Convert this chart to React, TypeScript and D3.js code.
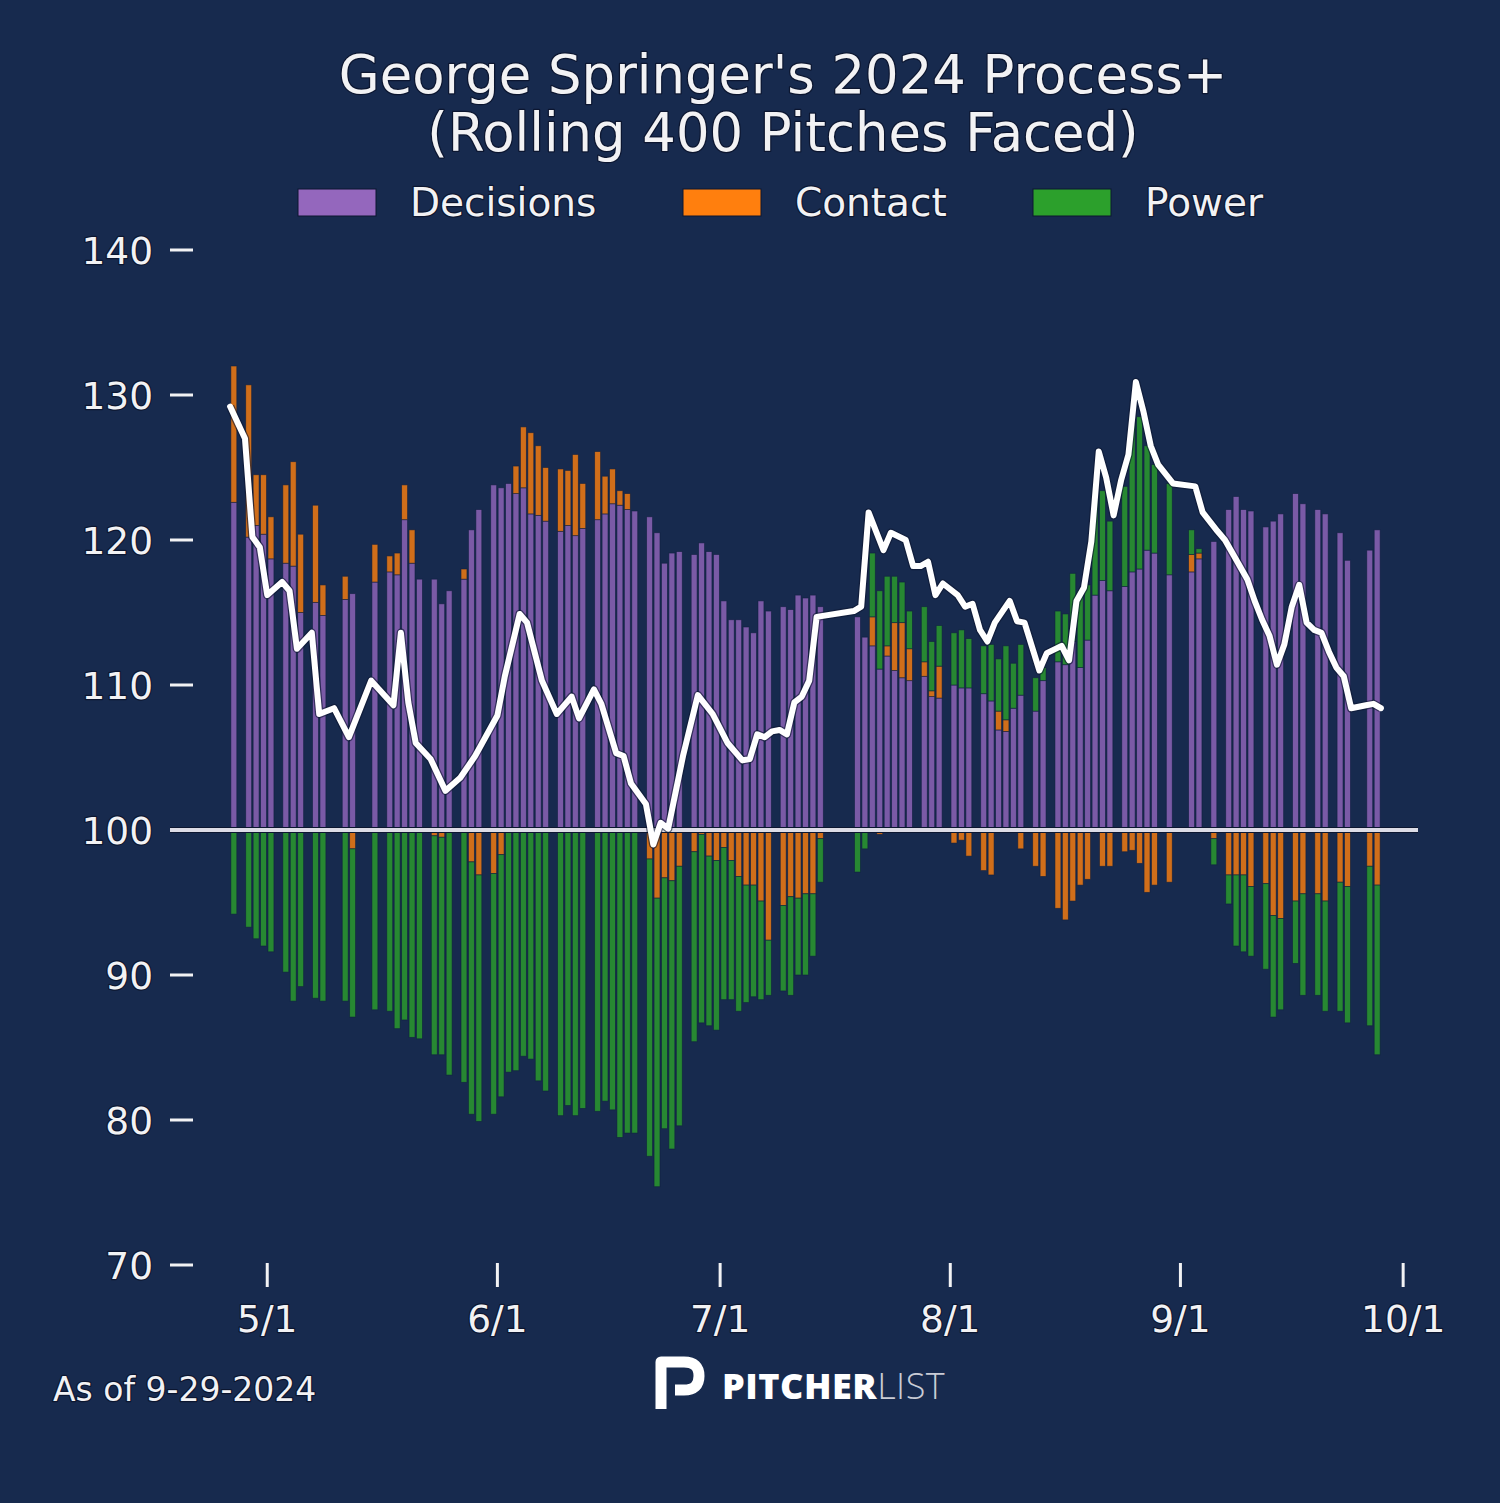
import React, { useEffect } from "react";
import * as d3 from "d3";

// one bar per game day (rolling 400 pitches), values are deviation from 100
const BAR_DATES = [
  "2024-04-26", "2024-04-28", "2024-04-29", "2024-04-30", "2024-05-01", "2024-05-03", "2024-05-04", "2024-05-05",
  "2024-05-07", "2024-05-08", "2024-05-11", "2024-05-12", "2024-05-15", "2024-05-17", "2024-05-18", "2024-05-19",
  "2024-05-20", "2024-05-21", "2024-05-23", "2024-05-24", "2024-05-25", "2024-05-27", "2024-05-28", "2024-05-29",
  "2024-05-31", "2024-06-01", "2024-06-02", "2024-06-03", "2024-06-04", "2024-06-05", "2024-06-06", "2024-06-07",
  "2024-06-09", "2024-06-10", "2024-06-11", "2024-06-12", "2024-06-14", "2024-06-15", "2024-06-16", "2024-06-17",
  "2024-06-18", "2024-06-19", "2024-06-21", "2024-06-22", "2024-06-23", "2024-06-24", "2024-06-25", "2024-06-27",
  "2024-06-28", "2024-06-29", "2024-06-30", "2024-07-01", "2024-07-02", "2024-07-03", "2024-07-04", "2024-07-05",
  "2024-07-06", "2024-07-07", "2024-07-09", "2024-07-10", "2024-07-11", "2024-07-12", "2024-07-13", "2024-07-14",
  "2024-07-19", "2024-07-20", "2024-07-21", "2024-07-22", "2024-07-23", "2024-07-24", "2024-07-25", "2024-07-26",
  "2024-07-28", "2024-07-29", "2024-07-30", "2024-08-01", "2024-08-02", "2024-08-03", "2024-08-05", "2024-08-06",
  "2024-08-07", "2024-08-08", "2024-08-09", "2024-08-10", "2024-08-12", "2024-08-13", "2024-08-15", "2024-08-16",
  "2024-08-17", "2024-08-18", "2024-08-19", "2024-08-20", "2024-08-21", "2024-08-22", "2024-08-24", "2024-08-25",
  "2024-08-26", "2024-08-27", "2024-08-28", "2024-08-30", "2024-09-02", "2024-09-03", "2024-09-05", "2024-09-07",
  "2024-09-08", "2024-09-09", "2024-09-10", "2024-09-12", "2024-09-13", "2024-09-14", "2024-09-16", "2024-09-17",
  "2024-09-19", "2024-09-20", "2024-09-22", "2024-09-23", "2024-09-26", "2024-09-27",
];

const DECISIONS = [
  22.6, 20.2, 21.0, 20.4, 18.7, 18.4, 18.2, 15.0, 15.7, 14.8, 15.9, 16.3, 17.1, 17.8, 17.6, 21.4,
  18.4, 17.3, 17.3, 15.6, 16.5, 17.3, 20.7, 22.1, 23.8, 23.6, 23.9, 23.2, 23.6, 21.8, 21.7, 21.3,
  20.6, 21.0, 20.3, 20.8, 21.4, 21.8, 22.5, 22.4, 22.1, 22.0, 21.6, 20.5, 18.4, 19.1, 19.2, 19.0,
  19.8, 19.2, 19.0, 15.8, 14.5, 14.5, 14.0, 13.6, 15.8, 15.1, 15.4, 15.2, 16.2, 16.0, 16.2, 15.4,
  14.7, 13.3, 12.7, 11.1, 12.0, 11.0, 10.5, 10.3, 10.6, 9.2, 9.1, 10.0, 9.8, 9.8, 9.4, 8.9,
  6.9, 6.8, 8.4, 9.3, 8.2, 10.3, 11.6, 11.4, 13.0, 11.2, 13.1, 16.2, 17.2, 16.5, 16.8, 17.8,
  18.0, 19.3, 19.1, 17.6, 17.8, 18.7, 19.9, 22.1, 23.0, 22.1, 22.0, 20.9, 21.3, 21.8, 23.2, 22.5,
  22.1, 21.8, 20.5, 18.6, 19.3, 20.7,
];

const CONTACT = [
  9.4, 10.5, 3.5, 4.1, 2.9, 5.4, 7.2, 5.4, 6.7, 2.1, 1.6, -1.3, 2.6, 1.1, 1.5, 2.4,
  2.3, 0, -0.4, -0.5, 0, 0.7, -2.2, -3.1, -3.0, -1.7, 0, 1.9, 4.2, 5.6, 4.8, 3.7,
  4.3, 3.8, 5.6, 3.1, 4.7, 2.6, 2.4, 1.0, 1.1, 0, -2.0, -4.7, -3.3, -3.5, -2.5, -1.5,
  -0.3, -1.8, -2.1, -1.2, -2.1, -3.2, -3.8, -3.8, -4.9, -7.6, -5.2, -4.6, -4.7, -4.4, -4.4, -0.6,
  0, 0, 2.0, -0.3, 0.7, 3.3, 3.8, 2.2, 1.0, 0.4, 2.2, -0.9, -0.7, -1.8, -2.8, -3.1,
  1.3, 0.8, 0, -1.3, -2.5, -3.2, -5.4, -6.2, -4.9, -3.8, -3.4, 0, -2.5, -2.5, -1.5, -1.4,
  -2.3, -4.3, -3.8, -3.6, 1.2, 0.4, -0.6, -3.1, -3.1, -3.1, -3.9, -3.7, -5.9, -6.1, -4.9, -4.4,
  -4.4, -4.9, -3.6, -3.9, -2.5, -3.8,
];

const POWER = [
  -5.8, -6.7, -7.5, -8.0, -8.4, -9.8, -11.8, -10.8, -11.6, -11.8, -11.8, -11.6, -12.4, -12.5, -13.7, -13.1,
  -14.3, -14.4, -15.1, -15.0, -16.9, -17.4, -17.4, -17.0, -16.6, -16.7, -16.7, -16.6, -15.6, -15.8, -17.3, -18.0,
  -19.7, -19.0, -19.7, -19.2, -19.4, -18.7, -19.3, -21.2, -20.9, -20.9, -20.5, -19.9, -17.3, -18.5, -17.9, -13.1,
  -13.0, -11.7, -11.7, -10.5, -9.6, -9.3, -8.1, -7.7, -6.8, -3.8, -5.9, -6.8, -5.3, -5.6, -4.3, -3.0,
  -2.9, -1.3, 4.4, 5.4, 4.8, 3.2, 2.8, 2.6, 3.8, 3.4, 2.8, 3.6, 4.0, 3.4, 3.3, 3.9,
  3.6, 5.1, 3.1, 3.5, 2.3, 0.9, 3.5, 3.5, 4.7, 5.3, 3.8, 6.6, 6.2, 4.8, 6.9, 10.2,
  10.5, 7.2, 6.1, 6.3, 1.7, 0.3, -1.8, -2.0, -4.9, -5.3, -4.8, -5.9, -7.0, -6.3, -4.3, -7.0,
  -7.0, -7.6, -8.9, -9.4, -11.0, -11.7,
];

// overall Process+ line
const LINE_DATES = [
  "2024-04-26", "2024-04-28", "2024-04-29", "2024-04-30", "2024-05-01", "2024-05-03", "2024-05-04", "2024-05-05",
  "2024-05-07", "2024-05-08", "2024-05-10", "2024-05-12", "2024-05-15", "2024-05-18", "2024-05-19", "2024-05-20",
  "2024-05-21", "2024-05-23", "2024-05-25", "2024-05-27", "2024-05-29", "2024-06-01", "2024-06-02", "2024-06-04",
  "2024-06-05", "2024-06-07", "2024-06-09", "2024-06-11", "2024-06-12", "2024-06-14", "2024-06-15", "2024-06-17",
  "2024-06-18", "2024-06-19", "2024-06-21", "2024-06-22", "2024-06-23", "2024-06-24", "2024-06-26", "2024-06-28",
  "2024-06-30", "2024-07-02", "2024-07-04", "2024-07-05", "2024-07-06", "2024-07-07", "2024-07-08", "2024-07-09",
  "2024-07-10", "2024-07-11", "2024-07-12", "2024-07-13", "2024-07-14", "2024-07-19", "2024-07-20", "2024-07-21",
  "2024-07-23", "2024-07-24", "2024-07-26", "2024-07-27", "2024-07-28", "2024-07-29", "2024-07-30", "2024-07-31",
  "2024-08-02", "2024-08-03", "2024-08-04", "2024-08-05", "2024-08-06", "2024-08-07", "2024-08-09", "2024-08-10",
  "2024-08-11", "2024-08-13", "2024-08-14", "2024-08-16", "2024-08-17", "2024-08-18", "2024-08-19", "2024-08-20",
  "2024-08-21", "2024-08-22", "2024-08-23", "2024-08-24", "2024-08-25", "2024-08-26", "2024-08-27", "2024-08-28",
  "2024-08-29", "2024-08-31", "2024-09-03", "2024-09-04", "2024-09-06", "2024-09-07", "2024-09-08", "2024-09-10",
  "2024-09-11", "2024-09-12", "2024-09-13", "2024-09-14", "2024-09-15", "2024-09-16", "2024-09-17", "2024-09-18",
  "2024-09-19", "2024-09-20", "2024-09-21", "2024-09-22", "2024-09-23", "2024-09-24", "2024-09-26", "2024-09-27",
  "2024-09-28",
];

const PROCESS_PLUS = [
  129.2, 127.0, 120.2, 119.5, 116.2, 117.1, 116.5, 112.5, 113.6, 108.0, 108.4, 106.4, 110.3, 108.6, 113.6, 108.8,
  106.0, 104.9, 102.7, 103.6, 105.1, 107.9, 110.6, 114.9, 114.3, 110.3, 108.0, 109.2, 107.7, 109.7, 108.7, 105.3,
  105.1, 103.2, 101.8, 99.0, 100.5, 100.1, 105.1, 109.3, 108.0, 106.0, 104.8, 104.9, 106.6, 106.4, 106.8, 106.9,
  106.6, 108.8, 109.2, 110.3, 114.7, 115.1, 115.4, 121.9, 119.3, 120.5, 120.0, 118.2, 118.2, 118.5, 116.2, 117.0,
  116.2, 115.4, 115.6, 113.8, 113.0, 114.3, 115.8, 114.4, 114.3, 111.0, 112.2, 112.7, 111.7, 115.8, 116.7, 119.9,
  126.1, 124.3, 121.7, 124.1, 125.9, 130.9, 128.9, 126.5, 125.2, 123.9, 123.7, 121.9, 120.6, 120.0, 119.1, 117.3,
  115.8, 114.5, 113.4, 111.4, 112.8, 115.4, 116.9, 114.3, 113.8, 113.6, 112.3, 111.2, 110.6, 108.4, 108.6, 108.7,
  108.4,
];

const SERIES = [
  { key: "decisions", label: "Decisions", color: "#9467bd" },
  { key: "contact", label: "Contact", color: "#ff7f0e" },
  { key: "power", label: "Power", color: "#2ca02c" },
];

const Y_TICKS = [70, 80, 90, 100, 110, 120, 130, 140];
const X_TICKS = ["2024-05-01", "2024-06-01", "2024-07-01", "2024-08-01", "2024-09-01", "2024-10-01"];
const X_DOMAIN = ["2024-04-21", "2024-10-03"];

const TITLE = ["George Springer's 2024 Process+", "(Rolling 400 Pitches Faced)"];
const FOOTNOTE = "As of 9-29-2024";

const W = 1500;
const H = 1503;
const BG = "#172a4e";
const TEXT = "#f2f2f4";
const FONT = "'DejaVu Sans', sans-serif";

const halo: React.CSSProperties = {
  paintOrder: "stroke",
  stroke: "#0c1630",
  strokeWidth: 2.5,
  strokeLinejoin: "round",
};

export default function App() {
  useEffect(() => {
    document.body.style.margin = "0";
    document.body.style.background = BG;
  }, []);

  const parse = d3.timeParse("%Y-%m-%d");
  const fmt = d3.timeFormat("%-m/%-d");

  const plot = { left: 193, right: 1418, top: 250, bottom: 1265 };

  const x = d3
    .scaleTime()
    .domain(X_DOMAIN.map((d) => parse(d) as Date))
    .range([plot.left, plot.right]);
  const y = d3.scaleLinear().domain([70, 140]).range([plot.bottom, plot.top]);

  const rows = BAR_DATES.map((d, i) => ({
    date: parse(d) as Date,
    decisions: DECISIONS[i],
    contact: CONTACT[i],
    power: POWER[i],
  }));

  const stacked = d3
    .stack<any>()
    .keys(SERIES.map((s) => s.key))
    .offset(d3.stackOffsetDiverging)(rows);

  const day = x(d3.timeDay.offset(parse("2024-05-01") as Date, 1)) - x(parse("2024-05-01") as Date);
  const barW = day * 0.8;
  const barX = (d: Date) => x(d3.timeHour.offset(d, 12)) - barW / 2;

  const linePts = LINE_DATES.map((d, i) => [parse(d) as Date, PROCESS_PLUS[i]] as [Date, number]);
  const linePath = d3
    .line<[Date, number]>()
    .x((d) => x(d[0]))
    .y((d) => y(d[1]))(linePts) || "";

  const legendX = [298, 683, 1033];

  return (
    <svg width={W} height={H} style={{ display: "block", background: BG }} fontFamily={FONT}>
      <rect width={W} height={H} fill={BG} />

      {/* title */}
      {TITLE.map((t, i) => (
        <text key={t} x={783} y={93 + i * 58} textAnchor="middle" fontSize={52.8} fill={TEXT} style={halo}>
          {t}
        </text>
      ))}

      {/* legend */}
      {SERIES.map((s, i) => (
        <g key={s.key} transform={`translate(${legendX[i]},189)`}>
          <rect width={78} height={27} fill={s.color} stroke="#0c1630" strokeWidth={1} />
          <text x={112} y={27} fontSize={39} fill={TEXT} style={halo}>
            {s.label}
          </text>
        </g>
      ))}

      {/* y axis */}
      {Y_TICKS.map((t) => (
        <g key={t}>
          <line x1={plot.left - 23} x2={plot.left} y1={y(t)} y2={y(t)} stroke={TEXT} strokeWidth={3} />
          <text x={153} y={y(t) + 13.5} textAnchor="end" fontSize={37.5} fill={TEXT} style={halo}>
            {t}
          </text>
        </g>
      ))}

      {/* x axis */}
      {X_TICKS.map((t) => {
        const d = parse(t) as Date;
        return (
          <g key={t}>
            <line x1={x(d)} x2={x(d)} y1={plot.bottom - 2} y2={plot.bottom + 22} stroke={TEXT} strokeWidth={3} />
            <text x={x(d)} y={1332} textAnchor="middle" fontSize={37.5} fill={TEXT} style={halo}>
              {fmt(d)}
            </text>
          </g>
        );
      })}

      {/* stacked bars */}
      {stacked.map((layer, li) => (
        <g key={layer.key} fill={SERIES[li].color} fillOpacity={0.8}>
          {layer.map((seg, i) => {
            const v = seg[1] - seg[0];
            if (Math.abs(v) < 1e-9) return null;
            const y0 = y(100 + seg[0]);
            const y1 = y(100 + seg[1]);
            return (
              <rect
                key={i}
                x={barX(rows[i].date)}
                width={barW}
                y={Math.min(y0, y1)}
                height={Math.abs(y1 - y0)}
                stroke="#10203f"
                strokeOpacity={0.7}
                strokeWidth={0.8}
              />
            );
          })}
        </g>
      ))}

      {/* 100 baseline */}
      <line x1={170} x2={1418} y1={y(100)} y2={y(100)} stroke="#0c1630" strokeWidth={6} />
      <line x1={170} x2={1418} y1={y(100)} y2={y(100)} stroke="#dcdce6" strokeWidth={4} />

      {/* Process+ line */}
      <path d={linePath} fill="none" stroke="#0c1630" strokeOpacity={0.6} strokeWidth={8.5} strokeLinejoin="round" />
      <path d={linePath} fill="none" stroke="#ffffff" strokeWidth={6} strokeLinejoin="round" strokeLinecap="round" />

      {/* footer */}
      <text x={53} y={1401} fontSize={33} fill={TEXT} style={halo}>
        {FOOTNOTE}
      </text>

      <g>
        <path
          d="M661,1409 L661,1362 L684,1362 Q699,1362 699,1376 Q699,1390 684,1390 L675,1390"
          fill="none"
          stroke="#ffffff"
          strokeWidth={11}
          strokeLinejoin="round"
        />
        <text x={722} y={1399} fontFamily="'Open Sans', sans-serif" fontSize={36} letterSpacing={0.5}>
          <tspan fontWeight={800} fill="#ffffff">PITCHER</tspan>
          <tspan fontWeight={300} fill="#c9ccd6">LIST</tspan>
        </text>
      </g>
    </svg>
  );
}
